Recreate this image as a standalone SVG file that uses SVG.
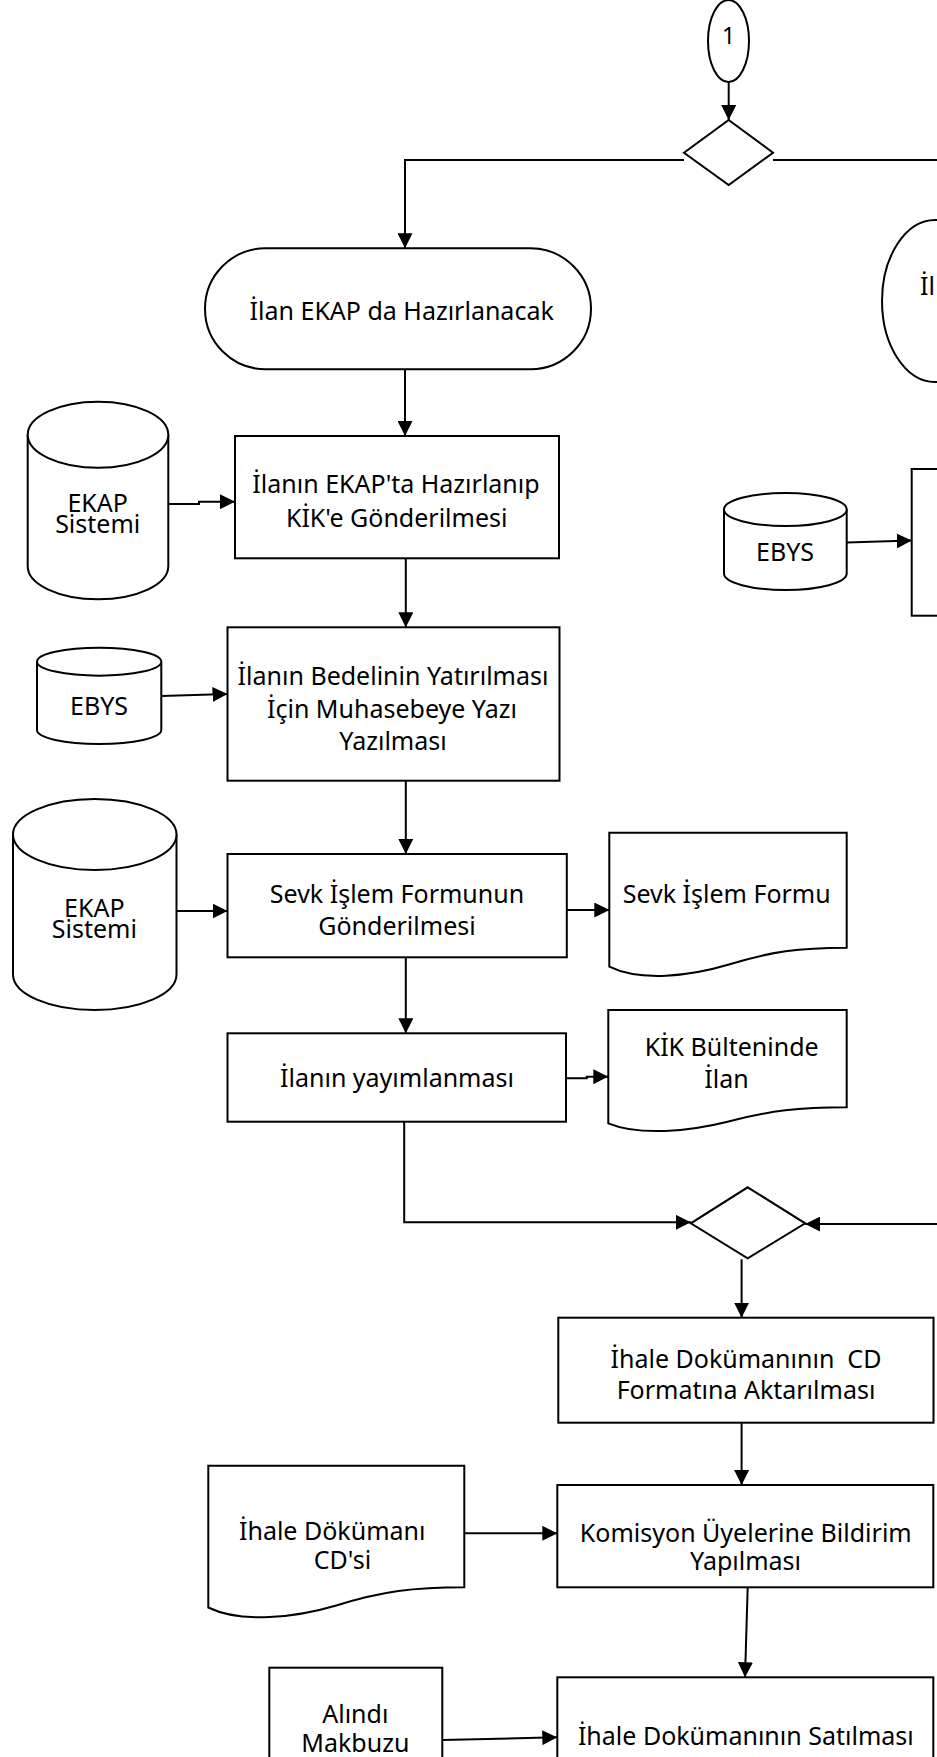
<svg xmlns="http://www.w3.org/2000/svg" width="937" height="1757" viewBox="0 0 937 1757">
<style>
.s{fill:#fff;stroke:#000;stroke-width:2}
.t{font-family:"Noto Sans","DejaVu Sans",sans-serif;font-size:25px;text-anchor:middle;fill:#000}
.c{fill:none;stroke:#000;stroke-width:2}
.a{marker-end:url(#ah)}
</style>
<defs>
<marker id="ah" markerUnits="userSpaceOnUse" markerWidth="15" markerHeight="15" refX="15" refY="7.5" orient="auto">
<path d="M0,0 L15,7.5 L0,15 Z" fill="#000"/>
</marker>
</defs>
<rect width="937" height="1757" fill="#fff"/>
<g id="connectors">
<path class="c a" d="M728.7,78 V120"/>
<path class="c a" d="M684,160 H405 V248.3"/>
<path class="c" d="M773,160 H940"/>
<path class="c a" d="M405,369.3 V436"/>
<path class="c a" d="M168.3,504 H199 V501.7 H235"/>
<path class="c a" d="M405.8,558.3 V627.3"/>
<path class="c a" d="M161.3,696 L227.5,694"/>
<path class="c a" d="M405.8,780.7 V854"/>
<path class="c a" d="M176.5,911 H227.5"/>
<path class="c a" d="M566.8,910 H609.3"/>
<path class="c a" d="M405.8,957.3 V1033.3"/>
<path class="c a" d="M566,1078.3 H586.7 V1076.7 H608.3"/>
<path class="c a" d="M404.2,1121.7 V1222.3 H690.8"/>
<path class="c a" d="M940,1224 H805.2"/>
<path class="c a" d="M741.6,1259.3 V1317.7"/>
<path class="c a" d="M741.6,1422.7 V1485"/>
<path class="c a" d="M464.3,1533.3 H557.3"/>
<path class="c a" d="M747.7,1587.3 L745,1677.3"/>
<path class="c a" d="M442.3,1740 L557.3,1737.3"/>
<path class="c a" d="M846.7,542.5 L911.7,540.5"/>
</g>
<g id="n_start">
<ellipse class="s" cx="728.5" cy="41" rx="20.5" ry="41"/>
<text class="t" x="728.7" y="43.5" style="font-size:23px">1</text>
</g>
<g id="n_dec1">
<polygon class="s" points="728.7,120 773,152.7 728.7,185 684,152.7"/>
</g>
<g id="n_term1">
<rect class="s" x="205" y="248.3" width="386" height="121" rx="60.5" ry="60.5"/>
<text class="t" x="401.7" y="320">İlan EKAP da Hazırlanacak</text>
</g>
<g id="n_term2">
<path class="s" d="M945,220 H935 A53,81 0 0 0 935,382 H945"/>
<text class="t" x="920" y="295" style="text-anchor:start">İl</text>
</g>
<g id="n_box1">
<rect class="s" x="235" y="436" width="324" height="122.3"/>
<text class="t" x="396" y="493.3">İlanın EKAP'ta Hazırlanıp</text>
<text class="t" x="396.7" y="526.7">KİK'e Gönderilmesi</text>
</g>
<g id="n_ekap1">
<path class="s" d="M27.7,434.7 V566.3 A70.3,33 0 0 0 168.3,566.3 V434.7"/>
<ellipse class="s" cx="98" cy="434.7" rx="70.3" ry="33"/>
<text class="t" x="97.7" y="511.7">EKAP</text>
<text class="t" x="97.7" y="532.7">Sistemi</text>
</g>
<g id="n_ebys_r">
<path class="s" d="M724,509.5 V573.5 A61.35,16.5 0 0 0 846.7,573.5 V509.5"/>
<ellipse class="s" cx="785.35" cy="509.5" rx="61.35" ry="16.5"/>
<text class="t" x="785" y="560.7">EBYS</text>
</g>
<g id="n_box_r">
<rect class="s" x="911.7" y="469" width="40" height="146.7"/>
</g>
<g id="n_box2">
<rect class="s" x="227.5" y="627.3" width="332" height="153.4"/>
<text class="t" x="393" y="685">İlanın Bedelinin Yatırılması</text>
<text class="t" x="392" y="718.3">İçin Muhasebeye Yazı</text>
<text class="t" x="393" y="750">Yazılması</text>
</g>
<g id="n_ebys_l">
<path class="s" d="M37,661.7 V730 A62.15,14 0 0 0 161.3,730 V661.7"/>
<ellipse class="s" cx="99.15" cy="661.7" rx="62.15" ry="14"/>
<text class="t" x="99" y="715">EBYS</text>
</g>
<g id="n_box3">
<rect class="s" x="227.5" y="854" width="339.3" height="103.3"/>
<text class="t" x="397" y="903.3">Sevk İşlem Formunun</text>
<text class="t" x="397" y="935">Gönderilmesi</text>
</g>
<g id="n_ekap2">
<path class="s" d="M13,834.5 V974.5 A81.75,35.5 0 0 0 176.5,974.5 V834.5"/>
<ellipse class="s" cx="94.75" cy="834.5" rx="81.75" ry="35.5"/>
<text class="t" x="94.3" y="916.7">EKAP</text>
<text class="t" x="94.3" y="938.3">Sistemi</text>
</g>
<g id="n_doc1">
<path class="s" d="M609.3,832.7 H846.7 V947.7 C799.2,947.7 770.7,951.5 728,964.8 C690,976.2 640.2,981.9 609.3,966.7 Z"/>
<text class="t" x="726.7" y="903.3">Sevk İşlem Formu</text>
</g>
<g id="n_box4">
<rect class="s" x="227.5" y="1033.3" width="338.5" height="88.4"/>
<text class="t" x="397" y="1087">İlanın yayımlanması</text>
</g>
<g id="n_doc2">
<path class="s" d="M608.3,1010 H846.7 V1107.3 C799,1107.3 770.4,1110.5 727.5,1121.7 C689.4,1131.3 639.3,1136.1 608.3,1123.3 Z"/>
<text class="t" x="731.7" y="1056">KİK Bülteninde</text>
<text class="t" x="726.5" y="1088.3">İlan</text>
</g>
<g id="n_dec2">
<polygon class="s" points="747.7,1187.3 805.2,1223.3 747.7,1258.3 690.8,1223.3"/>
</g>
<g id="n_box5">
<rect class="s" x="558.3" y="1317.7" width="375.2" height="105"/>
<text class="t" x="746" y="1367.7" xml:space="preserve">İhale Dokümanının  CD</text>
<text class="t" x="746" y="1399.3">Formatına Aktarılması</text>
</g>
<g id="n_box6">
<rect class="s" x="557.3" y="1485" width="376" height="102.3"/>
<text class="t" x="745.8" y="1541.7">Komisyon Üyelerine Bildirim</text>
<text class="t" x="745.5" y="1570">Yapılması</text>
</g>
<g id="n_doc3">
<path class="s" d="M208.3,1465.7 H464.3 V1587.3 C413.1,1587.3 382.4,1591.3 336.3,1605.5 C295.3,1617.6 241.6,1623.7 208.3,1607.5 Z"/>
<text class="t" x="332.2" y="1540">İhale Dökümanı</text>
<text class="t" x="342.5" y="1569">CD'si</text>
</g>
<g id="n_box7">
<rect class="s" x="557.3" y="1677.3" width="376" height="100"/>
<text class="t" x="745.8" y="1745">İhale Dokümanının Satılması</text>
</g>
<g id="n_makbuz">
<rect class="s" x="269.3" y="1667.7" width="173" height="100"/>
<text class="t" x="355.3" y="1723.3">Alındı</text>
<text class="t" x="355.3" y="1752">Makbuzu</text>
</g>
</svg>
